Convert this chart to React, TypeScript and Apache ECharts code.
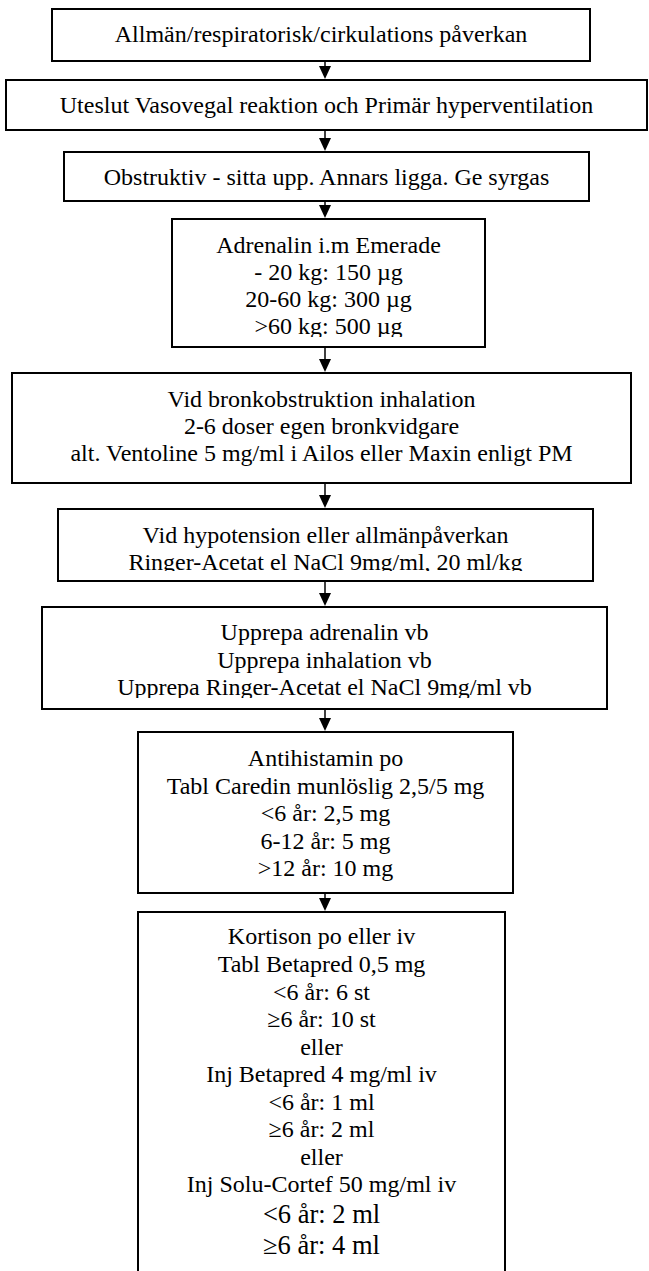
import React, { useEffect, useRef } from "react";
import * as echarts from "echarts";

// ---- content (text of each flowchart step) ----
const step1 = ["Allmän/respiratorisk/cirkulations påverkan"];
const step2 = ["Uteslut Vasovegal reaktion och Primär hyperventilation"];
const step3 = ["Obstruktiv - sitta upp. Annars ligga. Ge syrgas"];
const step4 = ["Adrenalin i.m Emerade", "- 20 kg: 150 µg", "20-60 kg: 300 µg", ">60 kg: 500 µg"];
const step5 = [
  "Vid bronkobstruktion inhalation",
  "2-6 doser egen bronkvidgare",
  "alt. Ventoline 5 mg/ml i Ailos eller Maxin enligt PM",
];
const step6 = ["Vid hypotension eller allmänpåverkan", "Ringer-Acetat el NaCl 9mg/ml, 20 ml/kg"];
const step7 = ["Upprepa adrenalin vb", "Upprepa inhalation vb", "Upprepa Ringer-Acetat el NaCl 9mg/ml vb"];
const step8 = ["Antihistamin po", "Tabl Caredin munlöslig 2,5/5 mg", "<6 år: 2,5 mg", "6-12 år: 5 mg", ">12 år: 10 mg"];
const step9 = [
  "Kortison po eller iv",
  "Tabl Betapred 0,5 mg",
  "<6 år: 6 st",
  "≥6 år: 10 st",
  "eller",
  "Inj Betapred 4 mg/ml iv",
  "<6 år: 1 ml",
  "≥6 år: 2 ml",
  "eller",
  "Inj Solu-Cortef 50 mg/ml iv",
  "<6 år: 2 ml",
  "≥6 år: 4 ml",
];
const steps = [step1, step2, step3, step4, step5, step6, step7, step8, step9];

// ---- layout (positions/sizes only) ----
type Box = { l: number; r: number; t: number; b: number; lines: number[]; clip?: number; big?: number[] };
const layout: Box[] = [
  { l: 52, r: 590, t: 9, b: 61, lines: [34] },
  { l: 6, r: 647, t: 80, b: 130, lines: [105] },
  { l: 64, r: 589, t: 152, b: 201, lines: [177] },
  { l: 172, r: 485, t: 219, b: 347, lines: [245, 272, 299, 326], clip: 337 },
  { l: 12, r: 631, t: 373, b: 483, lines: [399, 426, 453] },
  { l: 58, r: 593, t: 509, b: 581, lines: [535, 562], clip: 571 },
  { l: 42, r: 607, t: 607, b: 709, lines: [632, 660, 687], clip: 698 },
  { l: 138, r: 513, t: 732, b: 893, lines: [758, 786, 813, 841, 868] },
  {
    l: 138, r: 505, t: 912, b: 1300,
    lines: [936, 964, 992, 1019, 1047, 1074, 1102, 1129, 1157, 1184, 1214, 1245],
    big: [10, 11],
  },
];
const ARROW_X = 325;

const FONT = "'Liberation Serif', 'Times New Roman', serif";

function buildGraphics() {
  const els: any[] = [];
  layout.forEach((box, i) => {
    const texts = steps[i];
    const cx = (box.l + box.r) / 2;
    texts.forEach((t, j) => {
      const big = box.big && box.big.includes(j);
      els.push({
        type: "text",
        x: cx,
        y: box.lines[j],
        z: 1,
        style: {
          text: t,
          x: 0,
          y: 0,
          align: "center",
          verticalAlign: "middle",
          fontFamily: FONT,
          fontSize: big ? 26.5 : 24,
          fill: "#000",
        },
      });
    });
    if (box.clip) {
      els.push({
        type: "rect",
        z: 2,
        shape: { x: box.l + 2, y: box.clip, width: box.r - box.l - 4, height: box.b - box.clip },
        style: { fill: "#fff" },
      });
    }
    els.push({
      type: "rect",
      z: 3,
      shape: { x: box.l, y: box.t, width: box.r - box.l, height: box.b - box.t },
      style: { fill: "none", stroke: "#000", lineWidth: 2 },
    });
    if (i > 0) {
      const prev = layout[i - 1];
      const tip = box.t - 1;
      els.push({
        type: "line",
        z: 3,
        shape: { x1: ARROW_X, y1: prev.b, x2: ARROW_X, y2: tip - 11 },
        style: { stroke: "#000", lineWidth: 1.5 },
      });
      els.push({
        type: "polygon",
        z: 3,
        shape: { points: [[ARROW_X - 6, tip - 13], [ARROW_X + 6, tip - 13], [ARROW_X, tip]] },
        style: { fill: "#000" },
      });
    }
  });
  return els;
}

export default function App() {
  const ref = useRef<HTMLDivElement>(null);
  useEffect(() => {
    if (!ref.current) return;
    const chart = echarts.init(ref.current, undefined, { renderer: "svg" });
    chart.setOption({
      animation: false,
      backgroundColor: "#fff",
      graphic: { elements: buildGraphics() },
    });
    return () => chart.dispose();
  }, []);
  return (
    <div
      ref={ref}
      style={{ position: "absolute", left: 0, top: 0, width: 649, height: 1271, background: "#fff" }}
    />
  );
}
